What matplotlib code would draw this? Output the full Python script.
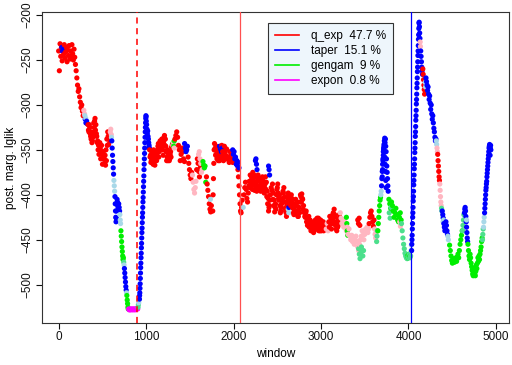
import matplotlib
matplotlib.use("Agg")
import matplotlib.pyplot as plt
from matplotlib.lines import Line2D
import numpy as np

plt.rcParams['font.family'] = ['Liberation Sans', 'DejaVu Sans']

# ---------------- data ----------------
models = ["q_exp", "taper", "gengam", "expon"]
model_pct = ["47.7", "15.1", "9", "0.8"]
model_colors = ["#FF0000", "#0000FF", "#00EE00", "#FF00FF"]
# point colour codes: full colour = best model, light = weaker support
code_colors = {"q": "#FF0000", "qL": "#FFB6C1", "t": "#0000FF", "tL": "#A8D8E8",
               "g": "#00EE00", "gL": "#4CDF8C", "e": "#FF00FF"}

# change points (window index)
cp_windows = [899, 2069, 4032]
cp_colors = ["#FF0000", "#FF5050", "#0000FF"]
cp_styles = ["--", "-", "-"]

# segments: (model code, first window, window step, lglik values)
segments = [
    ("q", 0, 8, [-240, -262, -232, -246, -236, -251, -238, -244, -233, -248, -241, -236, -252,
                 -239, -245, -234, -249, -240, -246, -233, -243, -250, -238, -247, -255]),
    ("t", 36, 6, [-236, -240, -238]),
    ("q", 200, 8, [-262, -270, -278, -285, -282, -291, -297, -303, -300, -307, -312]),
    ("qL", 288, 8, [-306, -310]),
    ("tL", 300, 10, [-312, -315]),
    ("t", 304, 8, [-316, -320, -318, -321]),
    ("q", 336, 10, [-322, -330, -325, -335, -330, -340, -332, -325, -315, -322, -335, -340, -345,
                    -350, -348, -355, -352, -360, -358, -365, -367, -362, -345, -335, -332, -340]),
    ("q", 341, 10, [-328, -322, -332, -338, -342, -336, -320, -318, -328, -332, -342, -350, -355,
                    -342, -360, -345, -366, -352, -360, -356, -350, -338, -330, -344]),
    ("qL", 590, 6, [-330, -327, -333]),
    ("tL", 604, 4, [-336]),
    ("t", 608, 4, [-340, -348, -356, -363, -370, -377]),
    ("tL", 632, 4, [-384, -390, -396]),
    ("t", 644, 3, [-402, -410, -418, -425, -430, -426, -418, -410, -405]),
    ("t", 672, 5, [-408, -413, -416, -410, -414, -418]),
    ("tL", 700, 4, [-422, -428, -432]),
    ("g", 712, 4, [-440, -446, -452, -458, -463, -468, -472, -470]),
    ("gL", 744, 4, [-475]),
    ("tL", 748, 4, [-478]),
    ("t", 752, 4, [-482, -487, -492, -497, -502, -506]),
    ("tL", 776, 4, [-509]),
    ("g", 780, 4, [-512, -517, -521, -525, -527]),
    ("e", 800, 8, [-527, -528, -527, -528, -527, -527, -528, -527, -527, -528, -527, -527, -526, -527]),
    ("gL", 908, 4, [-525, -522]),
    ("tL", 916, 4, [-520, -517]),
    ("t", 924, 2, [-516, -512, -509, -504, -499, -493, -487, -481, -476, -470, -465, -459, -454,
                   -448, -442, -437, -431, -425, -420, -414, -408, -403, -397, -391, -385, -379,
                   -372, -366, -360, -354, -348, -342, -336, -330, -325, -320, -315, -312, -313]),
    ("t", 1002, 4, [-318, -322, -327, -332, -329, -335, -338, -342, -345, -348]),
    ("q", 1040, 10, [-350, -356, -362, -354, -366, -358, -367, -356, -362, -350, -343, -352, -340,
                     -345, -338, -350, -341, -334, -338, -352, -358, -362, -354, -360, -352, -347, -344]),
    ("q", 1045, 10, [-358, -364, -352, -360, -350, -362, -360, -352, -356, -346, -358, -348, -350,
                     -342, -346, -356, -336, -345, -346, -362, -350, -356, -362, -355, -358]),
    ("qL", 1305, 8, [-345, -342, -348]),
    ("g", 1310, 6, [-342, -346, -340]),
    ("q", 1330, 10, [-338, -334, -330, -336, -345, -350, -362, -355, -348]),
    ("q", 1418, 10, [-352, -360, -363]),
    ("t", 1440, 8, [-343, -348, -352, -350, -346]),
    ("q", 1480, 8, [-358, -365, -372, -378, -382, -375]),
    ("qL", 1530, 8, [-378, -386, -394, -398, -392, -385]),
    ("q", 1578, 8, [-372, -360, -365, -374, -380, -370]),
    ("qL", 1600, 8, [-355, -352, -360]),
    ("qL", 1625, 8, [-365, -375, -372]),
    ("g", 1650, 8, [-363, -367, -370, -368, -386]),
    ("q", 1690, 8, [-380, -388, -395, -402, -410, -416, -419, -412]),
    ("tL", 1735, 10, [-405]),
    ("q", 1762, 4, [-418, -400, -382, -365, -350, -343]),
    ("q", 1790, 10, [-348, -355, -360, -350, -356, -362, -352, -358, -348, -355, -360, -352, -356,
                     -349, -360, -358, -364, -352, -355, -360, -364]),
    ("q", 1795, 10, [-356, -346, -352, -362, -348, -354, -360, -345, -352, -362, -346, -352, -360]),
    ("t", 1840, 10, [-346, -349, -352, -348]),
    ("t", 1990, 8, [-350, -355, -352, -360, -358, -366, -362, -368, -364, -370]),
    ("q", 2050, 6, [-372, -380, -390, -400, -410, -418, -420, -414, -406]),
    ("tL", 2110, 6, [-414]),
    ("q", 2120, 8, [-400, -392, -386, -394, -404, -408, -398, -390]),
    ("q", 2180, 10, [-385, -378, -390, -382, -375, -388, -395, -380, -386, -392, -378, -384, -390,
                     -396, -385, -380, -392, -398, -388, -394, -402, -410, -418, -412, -400, -392]),
    ("q", 2185, 10, [-392, -386, -380, -394, -384, -378, -390, -386, -396, -384, -390, -382, -394,
                     -388, -394, -384, -386, -392, -380, -386, -396, -404, -414, -406]),
    ("t", 2250, 6, [-362, -360, -366, -372]),
    ("t", 2400, 6, [-368, -372, -378]),
    ("q", 2440, 10, [-395, -405, -412, -419, -410, -400, -392, -398, -406, -412, -418, -410, -404,
                     -398, -408, -415, -420, -412, -405, -400, -410]),
    ("q", 2445, 10, [-388, -398, -406, -414, -416, -394, -388, -404, -400, -420, -414, -406, -396,
                     -392, -402, -418, -424, -408, -398, -404]),
    ("tL", 2625, 6, [-416, -420]),
    ("t", 2632, 6, [-414]),
    ("q", 2650, 10, [-406, -400, -408, -415, -422, -412, -405, -412, -418, -424, -414, -408, -402,
                     -399, -405, -412, -420, -425, -418, -426, -430, -424, -432, -436, -430, -438,
                     -434, -440, -436, -432, -438, -430, -426, -434, -440, -436, -430, -437, -440,
                     -434, -438]),
    ("q", 2655, 10, [-412, -404, -414, -420, -416, -420, -410, -408, -424, -418, -420, -400, -408,
                     -404, -416, -418, -424, -420, -430, -434, -428, -436, -428, -440, -434, -432,
                     -442, -438, -428, -436, -426, -432, -440, -432, -428, -440, -434, -430]),
    ("qL", 3060, 10, [-438, -432, -440]),
    ("q", 3090, 10, [-430, -424, -432, -438, -428, -420, -416, -425, -432, -440, -436, -428, -422]),
    ("q", 3095, 10, [-436, -430, -426, -432, -422, -430, -422, -434, -438, -430, -434, -426]),
    ("qL", 3220, 10, [-420, -426, -432, -428, -436, -430, -434, -440, -436, -444, -438, -446, -450,
                      -445, -452]),
    ("g", 3290, 5, [-425, -432, -440, -445]),
    ("qL", 3370, 10, [-448, -455, -450, -446, -452, -458, -462, -455, -450, -446, -440, -445, -450,
                      -444, -438]),
    ("q", 3420, 8, [-428, -432, -426, -434]),
    ("gL", 3430, 8, [-460, -466, -471, -465, -458, -462, -468, -462]),
    ("qL", 3520, 8, [-440, -436, -442, -438]),
    ("q", 3550, 8, [-432, -425, -420, -418, -424, -430, -435, -428]),
    ("qL", 3612, 6, [-438, -444, -448, -442]),
    ("gL", 3636, 4, [-452, -446, -440]),
    ("g", 3650, 5, [-440, -432, -425, -418, -412, -406, -403]),
    ("tL", 3684, 4, [-400, -396]),
    ("t", 3692, 4, [-390, -382, -374, -366, -360, -352, -348, -344, -340, -337, -342, -338, -346,
                    -352, -360, -368, -375, -382, -390, -396]),
    ("t", 3700, 4, [-380, -372, -362, -356, -350, -346, -352, -358, -366, -374, -384, -392]),
    ("g", 3776, 10, [-405, -410, -415, -408, -412, -418, -425, -420, -415, -422, -428, -430, -425,
                     -420, -428]),
    ("gL", 3780, 10, [-420, -426, -414]),
    ("qL", 3900, 8, [-430, -435]),
    ("gL", 3920, 8, [-432, -440, -448, -455, -460, -465, -468, -470, -471, -469, -470, -466, -470,
                     -468]),
    ("g", 3990, 8, [-468, -470, -466, -469]),
    ("tL", 4030, 3, [-462, -456]),
    ("t", 4036, 2, [-462, -455, -450, -445, -438, -432, -425, -420, -414, -407, -402, -396, -389,
                    -384, -378, -371, -366, -360, -353, -348, -342, -335, -330, -324, -317, -312,
                    -306, -299, -294, -288, -281, -276, -270, -263, -258, -252, -245, -240, -234,
                    -227, -222, -215, -209]),
    ("t", 4122, 3, [-208, -213, -220, -226]),
    ("qL", 4134, 3, [-230, -235]),
    ("t", 4140, 4, [-240, -246, -252, -258, -262, -266]),
    ("q", 4164, 4, [-260, -266, -272, -278, -283, -288]),
    ("tL", 4190, 5, [-275, -280]),
    ("t", 4200, 6, [-270, -274, -278, -284, -280, -288, -294, -290, -298, -305, -300, -310, -316,
                    -312, -320, -326, -330, -336, -340, -338]),
    ("tL", 4318, 4, [-340, -344]),
    ("qL", 4326, 4, [-348, -352]),
    ("q", 4334, 4, [-355, -362, -368, -374, -380, -384]),
    ("qL", 4358, 4, [-388, -395, -402, -408, -412]),
    ("gL", 4378, 4, [-415, -418]),
    ("t", 4386, 6, [-418, -422, -426, -432, -436, -440, -438, -430, -434, -440, -444]),
    ("tL", 4390, 6, [-425, -430, -428]),
    ("tL", 4450, 6, [-446, -450]),
    ("g", 4470, 8, [-456, -462, -468, -473, -476, -474, -471, -475, -472, -470, -474, -469, -466,
                    -470, -462, -455, -450, -445, -440]),
    ("gL", 4618, 5, [-440, -434, -428, -422]),
    ("t", 4640, 4, [-420, -416, -414, -418, -424, -430, -436, -442, -448, -452]),
    ("tL", 4664, 6, [-428]),
    ("g", 4680, 6, [-455, -462, -468, -472, -466, -470, -476, -480, -484, -488, -490, -486, -482,
                    -488, -490, -485, -478, -482, -476, -470, -474, -468, -472, -466, -462, -458,
                    -452, -448]),
    ("gL", 4846, 4, [-450, -444, -438]),
    ("tL", 4858, 4, [-436, -430, -425]),
    ("t", 4870, 3, [-420, -415, -410, -405, -400, -395, -392, -388, -385, -380, -376, -372, -368,
                    -364, -360, -356, -352, -348, -346, -344, -350, -356, -348, -345, -350]),
]

# ---------------- build point arrays ----------------
wins, vals, cols = [], [], []
for code, start, step, values in segments:
    for i, v in enumerate(values):
        wins.append(start + step * i)
        vals.append(v)
        cols.append(code_colors[code])
order = np.argsort(np.array(wins), kind="stable")
wins = np.array(wins)[order]
vals = np.array(vals)[order]
cols = [cols[i] for i in order]

# ---------------- figure ----------------
fig = plt.figure(figsize=(5.12, 3.65), dpi=100)
ax = fig.add_axes([0.0814, 0.115, 0.9127, 0.852])

ax.scatter(wins, vals, c=cols, s=14, linewidths=0, zorder=2)

for x, c, ls in zip(cp_windows, cp_colors, cp_styles):
    ax.axvline(x, color=c, linestyle=ls, linewidth=1.1 if ls == "--" else 0.9,
               dashes=(4, 3) if ls == "--" else (None, None), zorder=3)

ax.set_xlim(-194, 5149)
ax.set_ylim(-542.6, -196.7)
ax.set_xticks([0, 1000, 2000, 3000, 4000, 5000])
ax.set_yticks([-500, -450, -400, -350, -300, -250, -200])
ax.tick_params(direction="out", length=4, width=0.8, labelsize=8.5, colors="#111111", pad=2)
for lab in ax.get_yticklabels():
    lab.set_rotation(90)
    lab.set_va("center")
for s in ax.spines.values():
    s.set_linewidth(0.8)
    s.set_color("#333333")

ax.set_xlabel("window", fontsize=8.5, labelpad=3)
ax.set_ylabel("post. marg. lglik", fontsize=8.5, labelpad=3)

handles = [Line2D([0], [0], color=c, lw=1.2) for c in model_colors]
labels = [f"{m}  {p} %" for m, p in zip(models, model_pct)]
leg = ax.legend(handles, labels, loc="upper left", bbox_to_anchor=(0.485, 0.9637),
                borderaxespad=0, fancybox=False, framealpha=1, facecolor="#EEF6FC",
                edgecolor="#333333", fontsize=8.5, handlelength=2.0, handletextpad=1.0,
                labelspacing=0.25, borderpad=0.6)
leg.get_frame().set_linewidth(0.8)

fig.savefig("out.png", dpi=100)
